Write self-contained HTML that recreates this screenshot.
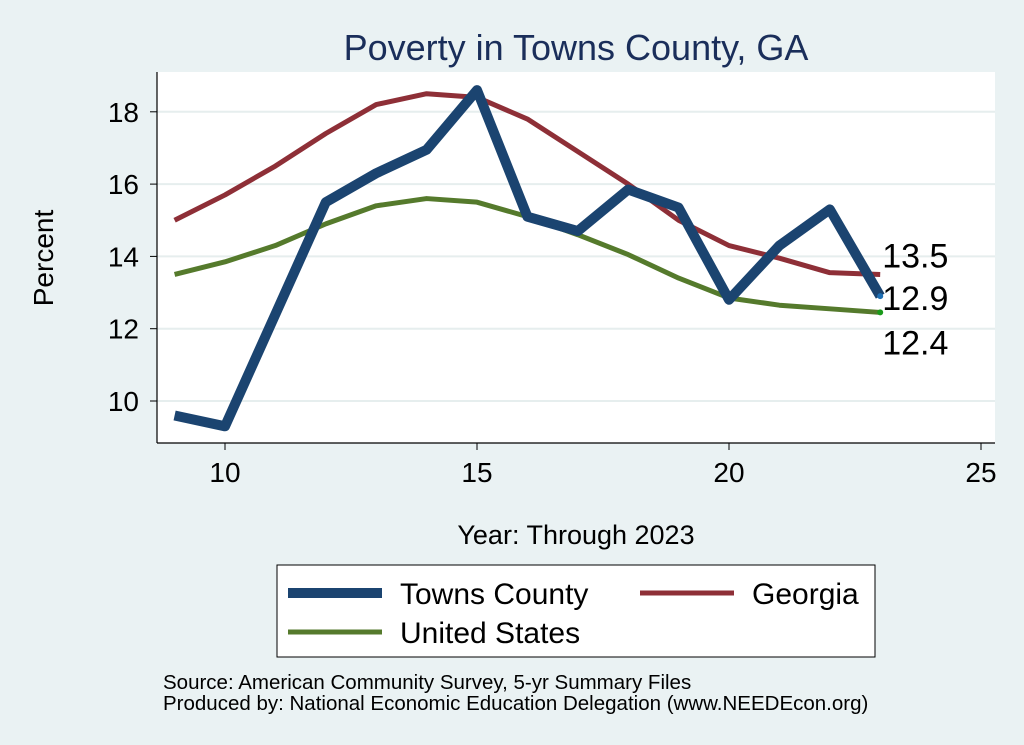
<!DOCTYPE html>
<html><head><meta charset="utf-8"><style>
body{margin:0;background:#eaf2f3;}
svg{display:block;font-family:"Liberation Sans",sans-serif;}
</style></head><body>
<svg id="chart" width="1024" height="745">
<rect x="0" y="0" width="1024" height="745" fill="#eaf2f3"/>
<text x="576" y="60" font-size="36" fill="#1a2e5a" text-anchor="middle">Poverty in Towns County, GA</text>
<rect x="157" y="72" width="838" height="371" fill="#fff"/>
<g id="grid"></g>
<line x1="157" y1="72" x2="157" y2="443" stroke="#000" stroke-width="1.2"/>
<line x1="157" y1="443" x2="995" y2="443" stroke="#000" stroke-width="1.2"/>
<g id="ticks"></g>
<g id="lines"></g>
<text x="53" y="258" font-size="28" text-anchor="middle" transform="rotate(-90 53 258)">Percent</text>
<text x="576" y="544" font-size="27" text-anchor="middle">Year: Through 2023</text>
<g>
<rect x="277" y="565" width="598" height="92" fill="#fff" stroke="#000" stroke-width="1"/>
<line x1="288" y1="593" x2="382" y2="593" stroke="#1b4470" stroke-width="10"/>
<text x="400" y="604" font-size="30">Towns County</text>
<line x1="640" y1="593" x2="734" y2="593" stroke="#8e2f37" stroke-width="5"/>
<text x="752" y="604" font-size="30">Georgia</text>
<line x1="288" y1="632" x2="382" y2="632" stroke="#557a2c" stroke-width="5"/>
<text x="400" y="643" font-size="30">United States</text>
</g>
<text x="163" y="689" font-size="20.5">Source: American Community Survey, 5-yr Summary Files</text>
<text x="163" y="710" font-size="20.5">Produced by: National Economic Education Delegation (www.NEEDEcon.org)</text>
</svg>
<script>
const years=[9,10,11,12,13,14,15,16,17,18,19,20,21,22,23];
const towns=[9.6,9.3,12.4,15.5,16.3,16.95,18.6,15.1,14.7,15.85,15.35,12.8,14.3,15.3,12.9];
const georgia=[15.0,15.7,16.5,17.4,18.2,18.5,18.4,17.8,16.9,16.0,15.0,14.3,13.95,13.55,13.5];
const us=[13.5,13.85,14.3,14.9,15.4,15.6,15.5,15.1,14.6,14.05,13.4,12.85,12.65,12.55,12.45];
const xTicks=[10,15,20,25];
const yTicks=[10,12,14,16,18];
const NS='http://www.w3.org/2000/svg';
const X=v=>225+(v-10)*50.4;
const Y=v=>401-(v-10)*36.15;
function mk(tag,attrs,parent){const e=document.createElementNS(NS,tag);for(const k in attrs)e.setAttribute(k,attrs[k]);parent.appendChild(e);return e;}
const grid=document.getElementById('grid'),ticks=document.getElementById('ticks'),lines=document.getElementById('lines');
yTicks.forEach(t=>{
 const g=mk('line',{x1:157,x2:995,y1:Y(t),y2:Y(t),stroke:'#e6eeee','stroke-width':2},grid);
 
 
 const tk=mk('line',{x1:150,x2:157,y1:Y(t),y2:Y(t),stroke:'#000'},ticks);
 
 
 const l=mk('text',{x:139,y:Y(t)+10,'font-size':28,'text-anchor':'end'},ticks);l.textContent=t;
 
 
});
xTicks.forEach(t=>{
 const tk=mk('line',{x1:X(t),x2:X(t),y1:443,y2:450,stroke:'#000'},ticks);
 
 
 const l=mk('text',{x:X(t),y:482,'font-size':28,'text-anchor':'middle'},ticks);l.textContent=t;
 
 
});
function series(vals,color,w,name){
 const p=mk('polyline',{points:vals.map((v,i)=>X(years[i])+','+Y(v)).join(' '),fill:'none',stroke:color,'stroke-width':w,'stroke-linejoin':'round'},lines);
 
 
}
series(georgia,'#8e2f37',5,'georgia-line');
series(us,'#557a2c',5,'us-line');
series(towns,'#1b4470',10,'towns-line');
const n=years.length-1;
const d1=mk('circle',{cx:X(years[n]),cy:Y(us[n]),r:3,fill:'#1a9a1a'},lines);


const d2=mk('circle',{cx:X(years[n]),cy:Y(towns[n]),r:3,fill:'#1d6fb5'},lines);


const labs=[[georgia[n],-7,'georgia-end-label'],[towns[n],14,'towns-end-label'],[us[n],42,'us-end-label']];
labs.forEach(([v,dy,nm])=>{
 const t=mk('text',{x:X(years[n])+2,y:Y(v)+dy,'font-size':34,fill:'#000'},lines);
 t.textContent=v.toFixed(1);
 
 
});
</script>
</body></html>
